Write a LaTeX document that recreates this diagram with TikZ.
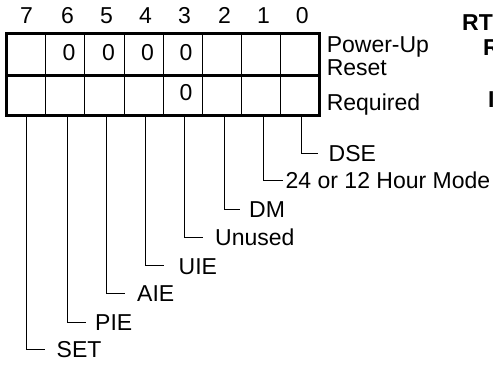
\documentclass[tikz,border=0pt]{standalone}
\usepackage{fontspec}
\setmainfont{Liberation Sans}
\begin{document}
\begin{tikzpicture}[x=1pt,y=-1pt,
  txt/.style={font=\fontsize{23}{24}\selectfont, inner sep=0pt, anchor=base},
  lbl/.style={txt, anchor=base west},
  boldlbl/.style={lbl, font=\fontsize{23}{24}\selectfont\bfseries},
  leader/.style={line width=1pt},
  frame/.style={line width=3pt, line join=miter},
  cell/.style={line width=1pt}]
\useasboundingbox (0,0) rectangle (493,365);
% register table
\coordinate (tl) at (6.7,33.5);
\coordinate (br) at (319.5,115);
\coordinate (ml) at (6.7,75.5);
\coordinate (mr) at (319.5,75.5);
\foreach \i in {1,...,7}{
  \draw[cell] (6.7+39.1*\i,33.5) -- (6.7+39.1*\i,115);
}
\draw[frame] (tl) rectangle (br);
\draw[frame] (ml) -- (mr);
% bit numbers, leaders and labels
\foreach \bit/\x/\y/\e/\tx/\t in {
  7/26/349/45/56.5/SET,
  6/67/322/86/95/PIE,
  5/106/293.3/125/137/AIE,
  4/145/265.7/164/178.5/UIE,
  3/184/237.3/203/215/Unused,
  2/224/209/240/249/DM,
  1/263/180/283/285.5/24 or 12 Hour Mode,
  0/301.7/153.3/318/328.5/DSE}{
  \coordinate (b\bit) at (\x,115);
  \coordinate (e\bit) at (\e,\y);
  \node[lbl] (l\bit) at (\tx,\y+8.3) {\t};
  \draw[leader] (b\bit) |- (e\bit);
  \node[txt] (n\bit) at (\x+0.5,23) {\bit};
}
% reset values
\node[txt] (z6) at (69,60.5) {0};
\node[txt] (z5) at (108.5,60.5) {0};
\node[txt] (z4) at (147.5,60.5) {0};
\node[txt] (z3) at (186,60.5) {0};
\node[txt] (r3) at (186,100.5) {0};
% row labels
\node[lbl] (pu) at (326.6,52.5) {Power-Up};
\node[lbl] (rs) at (326.6,75.5) {Reset};
\node[lbl] (rq) at (326.6,110.5) {Required};
% clipped bold text at right edge
\node[boldlbl] (c1) at (462,30.5) {RT};
\node[boldlbl] (c2) at (483,55.5) {R};
\node[boldlbl] (c3) at (488,107.5) {I};
\end{tikzpicture}
\end{document}
